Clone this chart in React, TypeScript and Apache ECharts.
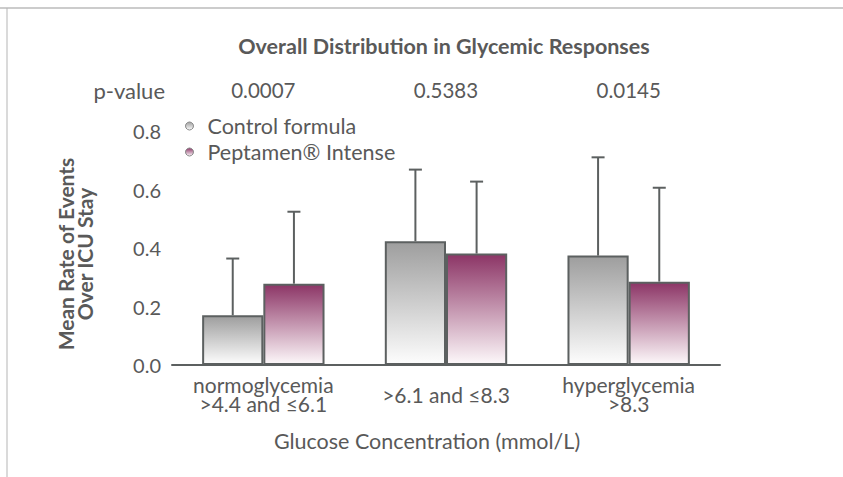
import React, { useEffect, useRef } from "react";
import * as echarts from "echarts";

const categories = ["normoglycemia\n>4.4 and ≤6.1", ">6.1 and ≤8.3", "hyperglycemia\n>8.3"];
const pValues = ["0.0007", "0.5383", "0.0145"];
const seriesNames = ["Control formula", "Peptamen® Intense"];
const controlMeans = [0.17, 0.423, 0.374];
const controlErrTop = [0.364, 0.668, 0.71];
const peptamenMeans = [0.278, 0.381, 0.285];
const peptamenErrTop = [0.524, 0.627, 0.606];
const yTicks = [0, 0.2, 0.4, 0.6, 0.8];

const TEXT = "#595959";
const FONT = "Lato, 'Open Sans', sans-serif";
const BORDER = "#5c6060";
const FS = 21.5;

function grad(top: string, bottom: string) {
  return new echarts.graphic.LinearGradient(0, 0, 0, 1, [
    { offset: 0, color: top },
    { offset: 1, color: bottom },
  ]);
}

const CAT_GAP = 0.33;

function errorSeries(name: string, means: number[], tops: number[], side: number) {
  return {
    type: "custom",
    name: name + " error",
    z: 5,
    silent: true,
    renderItem: (params: any, api: any) => {
      const i = api.value(0);
      const band = api.size([1, 0])[0];
      const barW = (band * (1 - CAT_GAP)) / 2;
      const base = api.coord([i, api.value(1)]);
      const top = api.coord([i, api.value(2)]);
      const x = base[0] + side * (barW / 2);
      const cap = 6.5;
      return {
        type: "group",
        children: [
          { type: "line", shape: { x1: x, y1: base[1], x2: x, y2: top[1] }, style: { stroke: BORDER, lineWidth: 2 } },
          { type: "line", shape: { x1: x - cap, y1: top[1], x2: x + cap, y2: top[1] }, style: { stroke: BORDER, lineWidth: 2 } },
        ],
      };
    },
    data: means.map((m, i) => [i, m, tops[i]]),
  };
}

export default function App() {
  const ref = useRef<HTMLDivElement>(null);
  useEffect(() => {
    const chart = echarts.init(ref.current!, undefined, { renderer: "svg" });
    chart.setOption({
      animation: false,
      backgroundColor: "#ffffff",
      textStyle: { fontFamily: FONT },
      title: {
        text: "Overall Distribution in Glycemic Responses",
        left: 439,
        top: 30,
        textAlign: "center",
        textStyle: { fontFamily: FONT, fontSize: FS, fontWeight: "bold", color: TEXT },
      },
      legend: {
        orient: "vertical",
        left: 185,
        top: 115,
        padding: 0,
        icon: "circle",
        itemWidth: 26,
        itemHeight: 8,
        itemGap: 4,
        data: seriesNames,
        textStyle: { fontFamily: FONT, fontSize: FS, color: TEXT, lineHeight: 21 },
        itemStyle: { borderColor: "#8a8a8a", borderWidth: 1 },
      },
      grid: { left: 172, right: 123, top: 131, bottom: 112 },
      xAxis: [
        {
          type: "category",
          data: categories,
          axisLine: { show: true, lineStyle: { color: BORDER, width: 2 } },
          axisTick: { show: false },
          axisLabel: {
            color: TEXT,
            fontFamily: FONT,
            fontSize: 21,
            lineHeight: 18.5,
            margin: 29,
            verticalAlign: "middle",
            interval: 0,
          },
        },
        {
          type: "category",
          position: "top",
          data: pValues,
          axisLine: { show: false },
          axisTick: { show: false },
          axisLabel: {
            color: TEXT,
            fontFamily: FONT,
            fontSize: 20.5,
            margin: 41,
            verticalAlign: "middle",
            interval: 0,
          },
        },
      ],
      yAxis: {
        type: "value",
        min: 0,
        max: 0.8,
        interval: 0.2,
        splitLine: { show: false },
        axisLine: { show: false },
        axisTick: { show: false },
        axisLabel: {
          color: TEXT,
          fontFamily: FONT,
          fontSize: 20,
          margin: 11,
          formatter: (v: number) => (yTicks.indexOf(Math.round(v * 10) / 10) >= 0 ? v.toFixed(1) : ""),
        },
      },
      graphic: [
        { type: "line", shape: { x1: 0, y1: 8, x2: 843, y2: 8 }, style: { stroke: "#cccccc", lineWidth: 2 } },
        { type: "line", shape: { x1: 7, y1: 8, x2: 7, y2: 477 }, style: { stroke: "#b5b5b5", lineWidth: 1 } },
        {
          type: "text",
          x: 165,
          y: 90,
          style: { text: "p-value", fill: TEXT, font: `22px ${FONT}`, textAlign: "right", textVerticalAlign: "middle" },
        },
        {
          type: "text",
          x: 427,
          y: 441,
          style: {
            text: "Glucose Concentration (mmol/L)",
            fill: TEXT,
            font: `${FS}px ${FONT}`,
            textAlign: "center",
            textVerticalAlign: "middle",
          },
        },
        {
          type: "text",
          x: 75,
          y: 254,
          rotation: Math.PI / 2,
          style: {
            text: "Mean Rate of Events\nOver ICU Stay",
            fill: TEXT,
            font: `bold 21px ${FONT}`,
            lineHeight: 18.5,
            textAlign: "center",
            textVerticalAlign: "middle",
          },
        },
      ],
      series: [
        {
          type: "bar",
          name: seriesNames[0],
          data: controlMeans,
          barGap: "0%",
          barCategoryGap: "33%",
          itemStyle: { color: grad("#9e9e9e", "#fdfdfd"), borderColor: BORDER, borderWidth: 2 },
        },
        {
          type: "bar",
          name: seriesNames[1],
          data: peptamenMeans,
          barGap: "0%",
          barCategoryGap: "33%",
          itemStyle: { color: grad("#8c3566", "#fdf8fa"), borderColor: BORDER, borderWidth: 2 },
        },
        errorSeries(seriesNames[0], controlMeans, controlErrTop, -1),
        errorSeries(seriesNames[1], peptamenMeans, peptamenErrTop, 1),
      ],
    });
    return () => chart.dispose();
  }, []);
  return <div ref={ref} style={{ position: "fixed", left: 0, top: 0, width: 843, height: 477 }} />;
}
